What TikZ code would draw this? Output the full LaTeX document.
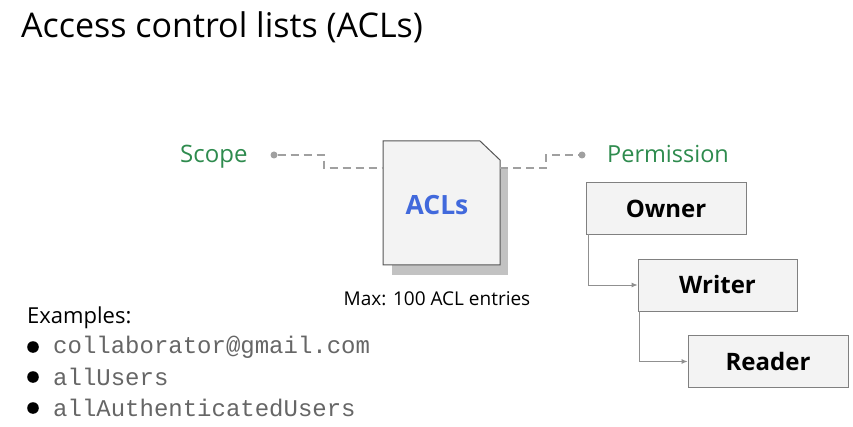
\documentclass[tikz,border=0pt]{standalone}
\usepackage{fontspec}
\setmainfont{Open Sans}
\newfontfamily\monof{Liberation Mono}
\usetikzlibrary{arrows.meta}
\definecolor{grn}{HTML}{2E8B4E}
\definecolor{blu}{HTML}{4169DC}
\definecolor{dgray}{HTML}{A0A0A0}
\definecolor{boxfill}{HTML}{F3F3F3}
\definecolor{boxline}{HTML}{555555}
\definecolor{shadow}{HTML}{C2C2C2}
\definecolor{mono}{HTML}{666666}
\tikzset{
  lbl/.style={inner sep=0pt, anchor=west},
  glbl/.style={inner sep=0pt, anchor=base west, text=grn, font=\fontsize{23.5}{27}\selectfont},
  dashconn/.style={draw=dgray, line width=1.6pt, dash pattern=on 8pt off 5pt},
  dotend/.style={circle, fill=dgray, inner sep=0pt, minimum size=7pt},
  permbox/.style={draw=boxline!75, fill=boxfill, line width=0.9pt, minimum width=160pt, minimum height=52pt, inner sep=0pt, font=\fontsize{24}{28}\selectfont\bfseries},
  hier/.style={draw=dgray!90!black, line width=0.9pt, -{Latex[length=6pt,width=5pt]}},
  mono/.style={inner sep=0pt, anchor=west, text=mono, font=\monof\fontsize{24}{28}\selectfont},
}
\begin{document}
\begin{tikzpicture}[x=1pt,y=-1pt]
\useasboundingbox (0,0) rectangle (853,427);
\fill[white] (0,0) rectangle (853,427);
% title
\node[lbl, font=\fontsize{34}{40}\selectfont] (title) at (21,27) {Access control lists (ACLs)};
% scope / permission
\node[glbl, font=\fontsize{24}{27}\selectfont] (scope) at (180,163) {Scope};
\node[glbl] (perm) at (607,163) {Permission};
\node[dotend] (sd) at (274,155) {};
\node[dotend] (pd) at (582,155) {};
% document shadow
\fill[shadow] (392,168) -- (508,168) -- (508,275) -- (392,275) -- cycle;
% document
\draw[boxline, fill=boxfill, line width=1pt] (383,141) -- (480,141) -- (500,160) -- (500,265) -- (383,265) -- cycle;
\coordinate (docL) at (383,168);
\coordinate (docR) at (500,168);
\node[text=blu, font=\fontsize{26.5}{30}\selectfont\bfseries] (acl) at (437,205) {ACLs};
\node[font=\fontsize{19}{22}\selectfont] (max) at (437,299) {Max: 100 ACL entries};
% dashed connectors
\draw[dashconn] (sd) -- (324,155) -- (324,168) -- (docL);
\draw[dashconn] (docR) -- (546,168) -- (546,155) -- (pd);
% permission boxes
\node[permbox] (owner) at (666,208.5) {Owner};
\node[permbox, minimum width=159pt] (writer) at (717.5,285) {Writer};
\node[permbox] (reader) at (768,361.5) {Reader};
\draw[hier] (588,234) |- (writer.west);
\draw[hier] (639,311) |- (reader.west);
% examples
\node[lbl, font=\fontsize{22}{26}\selectfont] (ex) at (27,318) {Examples:};
\foreach \y/\t [count=\i] in {347/collaborator@gmail.com, 377/allUsers, 408/allAuthenticatedUsers}{
  \fill (33,\y) circle (5.8pt);
  \node[mono] (item\i) at (53,\y) {\t};
}
\end{tikzpicture}
\end{document}
